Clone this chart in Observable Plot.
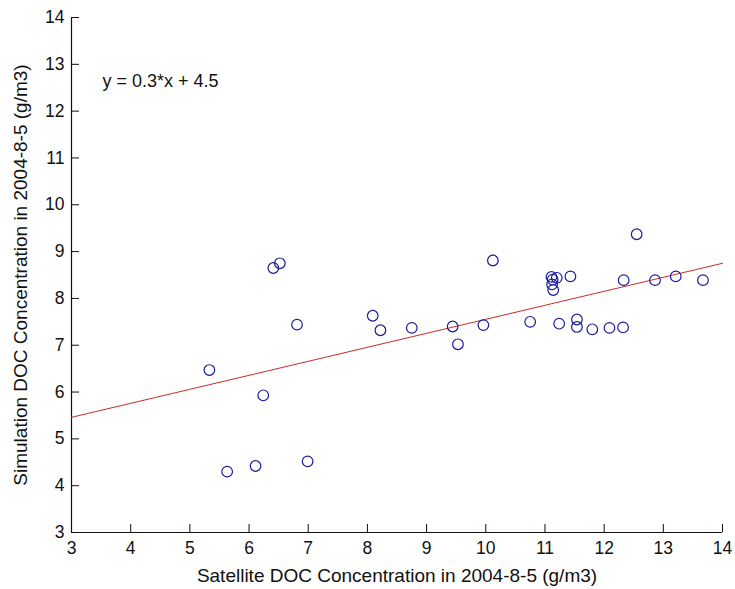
<!DOCTYPE html>
<html>
<head>
<meta charset="utf-8">
<script src="https://cdn.jsdelivr.net/npm/d3@7"></script>
<script src="https://cdn.jsdelivr.net/npm/@observablehq/plot@0.6"></script>
<style>
  html, body { margin: 0; padding: 0; background: #fff; }
</style>
</head>
<body>
<div id="chart"></div>
<script>
// Satellite DOC (x) vs Simulation DOC (y), g/m3, 2004-8-5
const satellite = [5.33, 5.63, 6.11, 6.24, 6.41, 6.52, 6.81, 6.99, 8.09, 8.22, 8.75, 9.44, 9.53, 9.96, 10.12, 10.75,
  11.11, 11.13, 11.12, 11.14, 11.20, 11.43, 11.24, 11.54, 11.54, 11.80, 12.09, 12.32, 12.33, 12.55, 12.86, 13.21, 13.67];
const simulation = [6.47, 4.30, 4.42, 5.93, 8.65, 8.75, 7.44, 4.52, 7.63, 7.32, 7.37, 7.40, 7.02, 7.43, 8.81, 7.50,
  8.46, 8.40, 8.30, 8.18, 8.44, 8.47, 7.46, 7.55, 7.39, 7.34, 7.37, 7.38, 8.39, 9.37, 8.39, 8.47, 8.39];

// Fitted line
const fitX = [3, 14];
const fitY = [5.46, 8.75];
const equation = "y = 0.3*x + 4.5";

const xTicks = [3, 4, 5, 6, 7, 8, 9, 10, 11, 12, 13, 14];
const yTicks = [3, 4, 5, 6, 7, 8, 9, 10, 11, 12, 13, 14];
const xTitle = "Satellite DOC Concentration in 2004-8-5 (g/m3)";
const yTitle = "Simulation DOC Concentration in 2004-8-5 (g/m3)";

const points = satellite.map((x, i) => ({x, y: simulation[i]}));
const fit = fitX.map((x, i) => ({x, y: fitY[i]}));

const W = 735, H = 589;
const mL = 71, mR = 13, mT = 17, mB = 57;
const plotW = W - mL - mR, plotH = H - mT - mB;
const tickLen = 8;
const font = "'Liberation Sans', Arial, Helvetica, sans-serif";

const chart = Plot.plot({
  width: W,
  height: H,
  marginLeft: mL,
  marginRight: mR,
  marginTop: mT,
  marginBottom: mB,
  style: {fontFamily: font, background: "#fff", color: "#111"},
  x: {domain: [3, 14], ticks: xTicks},
  y: {domain: [3, 14], ticks: yTicks},
  marks: [
    Plot.axisX({ticks: xTicks, tickSize: 0, tickPadding: 9, fontSize: 17.5, label: null, tickFormat: d => String(d)}),
    Plot.axisY({ticks: yTicks, tickSize: 0, tickPadding: 7, fontSize: 17.5, label: null, tickFormat: d => String(d)}),
    Plot.tickX(xTicks, {x: d => d, insetTop: plotH - tickLen, stroke: "#111", strokeWidth: 1}),
    Plot.tickY(yTicks, {y: d => d, insetRight: plotW - tickLen, stroke: "#111", strokeWidth: 1}),
    Plot.ruleX([3], {stroke: "#111", strokeWidth: 1.2}),
    Plot.ruleY([3], {stroke: "#111", strokeWidth: 1.2}),
    Plot.line(fit, {x: "x", y: "y", stroke: "#cc2a2a", strokeWidth: 1}),
    Plot.dot(points, {x: "x", y: "y", r: 5.3, stroke: "#1c1c96", strokeWidth: 1.2, fill: "none"}),
    Plot.text([equation], {frameAnchor: "top-left", dx: 31, dy: 64, textAnchor: "start", lineAnchor: "middle", fontSize: 18, fill: "#111"}),
    Plot.text([xTitle], {frameAnchor: "bottom", dy: 43, textAnchor: "middle", lineAnchor: "middle", fontSize: 19, fill: "#111"}),
    Plot.text([yTitle], {frameAnchor: "left", dx: -51, rotate: -90, textAnchor: "middle", lineAnchor: "middle", fontSize: 19, fill: "#111"})
  ]
});

document.getElementById("chart").appendChild(chart);
</script>
</body>
</html>
